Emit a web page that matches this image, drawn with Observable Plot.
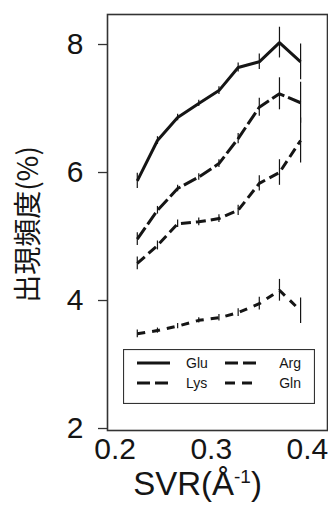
<!DOCTYPE html>
<html>
<head>
<meta charset="utf-8">
<script src="https://cdn.jsdelivr.net/npm/d3@7"></script>
<script src="https://cdn.jsdelivr.net/npm/@observablehq/plot@0.6"></script>
<style>
  html, body { margin: 0; padding: 0; background: #fff; }
  #wrap { position: relative; width: 328px; height: 509px; overflow: hidden; }
  #legend { position: absolute; left: 123px; top: 349px; }
</style>
</head>
<body>
<div id="wrap"></div>
<script>
// ---- data ----
const svr = [0.223, 0.244, 0.265, 0.287, 0.308, 0.328, 0.350, 0.371, 0.393];
const glu = [5.87, 6.50, 6.86, 7.08, 7.28, 7.64, 7.73, 8.03, 7.73];
const lys = [4.96, 5.41, 5.75, 5.93, 6.14, 6.53, 7.02, 7.23, 7.09];
const arg = [4.58, 4.86, 5.20, 5.23, 5.28, 5.41, 5.83, 6.00, 6.50];
const gln = [3.48, 3.53, 3.60, 3.69, 3.73, 3.81, 3.95, 4.16, 3.84];
const gluErr = [0.12, 0.06, 0.05, 0.05, 0.06, 0.07, 0.12, 0.24, 0.28];
const lysErr = [0.10, 0.06, 0.05, 0.05, 0.06, 0.08, 0.14, 0.25, 0.32];
const argErr = [0.10, 0.07, 0.06, 0.06, 0.06, 0.08, 0.12, 0.20, 0.35];
const glnErr = [0.06, 0.04, 0.04, 0.04, 0.05, 0.06, 0.10, 0.17, 0.20];
const seriesNames = ["Glu", "Lys", "Arg", "Gln"];
const xTicks = [0.2, 0.3, 0.4];
const yTicks = [2, 4, 6, 8];
const xTitle = "SVR(Å";
const yTitle = "出現頻度(%)";

// ---- build table ----
const values = [glu, lys, arg, gln];
const errs = [gluErr, lysErr, argErr, glnErr];
const dashes = {Glu: null, Lys: "14,4", Arg: "10,5", Gln: "8,7"};
const legendDashes = {Glu: null, Lys: "13,5", Arg: "13,5", Gln: "10,7"};
const rows = [];
seriesNames.forEach((name, si) => {
  svr.forEach((x, i) => rows.push({series: name, x, y: values[si][i], e: errs[si][i]}));
});

const ink = "#151515";
const font = "'Liberation Sans', Arial, sans-serif";

const marks = [
  Plot.frame({stroke: "#333", strokeWidth: 1.6}),
  Plot.axisY({ticks: yTicks, tickFormat: d => String(d), tickSize: 9, tickPadding: 15, fontSize: 30, label: null, stroke: "#333", fill: ink, strokeWidth: 1.3}),
  Plot.axisX({ticks: xTicks, tickFormat: d => d.toFixed(1), tickSize: 0, tickPadding: 7, fontSize: 30, label: null, fill: ink}),
  Plot.ruleX(rows, {x: "x", y1: d => d.y - d.e, y2: d => d.y + d.e, stroke: ink, strokeWidth: 1.2})
];
seriesNames.forEach(name => {
  marks.push(Plot.line(rows.filter(d => d.series === name), {
    x: "x", y: "y", stroke: ink, strokeWidth: 3,
    strokeDasharray: dashes[name] || undefined, strokeLinejoin: "miter", strokeLinecap: "butt"
  }));
});
marks.push(Plot.text([yTitle], {text: d => d, frameAnchor: "left", textAnchor: "middle", dx: -78, dy: 2, rotate: -90,
  fontSize: 28, fill: ink, fontFamily: "'Noto Sans CJK JP', sans-serif"}));
marks.push(Plot.text([xTitle], {text: d => d, frameAnchor: "bottom", textAnchor: "middle", dx: -20, dy: 64,
  fontSize: 33, fill: ink}));

const chart = Plot.plot({
  width: 328,
  height: 509,
  marginLeft: 107,
  marginRight: 1,
  marginTop: 14,
  marginBottom: 79,
  style: {fontFamily: font, background: "#fff", color: ink, overflow: "visible"},
  x: {domain: [0.192, 0.421]},
  y: {domain: [1.969, 8.469]},
  marks
});
document.getElementById("wrap").appendChild(chart);

// superscript on x title
d3.select(chart).selectAll("text").filter(function() { return this.textContent === xTitle; })
  .each(function() {
    const t = d3.select(this);
    t.append("tspan").attr("dy", "-12").attr("font-size", "19").text("-1");
    t.append("tspan").attr("dy", "12").text(")");
  });

// ---- legend ----
const lw = 192, lh = 55;
const leg = d3.create("svg").attr("id", "legend").attr("width", lw).attr("height", lh)
  .style("font-family", font);
leg.append("rect").attr("x", 0.5).attr("y", 0.5).attr("width", lw - 1).attr("height", lh - 1)
  .attr("fill", "#fff").attr("stroke", "#333").attr("stroke-width", 1.2);
const pos = {
  Glu: {x1: 14, x2: 47, tx: 63, anchor: "start", y: 14},
  Lys: {x1: 14, x2: 47, tx: 63, anchor: "start", y: 34},
  Arg: {x1: 102, x2: 134, tx: 178, anchor: "end", y: 14},
  Gln: {x1: 102, x2: 134, tx: 178, anchor: "end", y: 34}
};
seriesNames.forEach(name => {
  const p = pos[name];
  leg.append("line").attr("x1", p.x1).attr("x2", p.x2).attr("y1", p.y).attr("y2", p.y)
    .attr("stroke", ink).attr("stroke-width", 3)
    .attr("stroke-dasharray", legendDashes[name]);
  leg.append("text").attr("x", p.tx).attr("y", p.y + 5).attr("text-anchor", p.anchor)
    .attr("font-size", 14).attr("fill", ink).text(name);
});
document.getElementById("wrap").appendChild(leg.node());
</script>
</body>
</html>
